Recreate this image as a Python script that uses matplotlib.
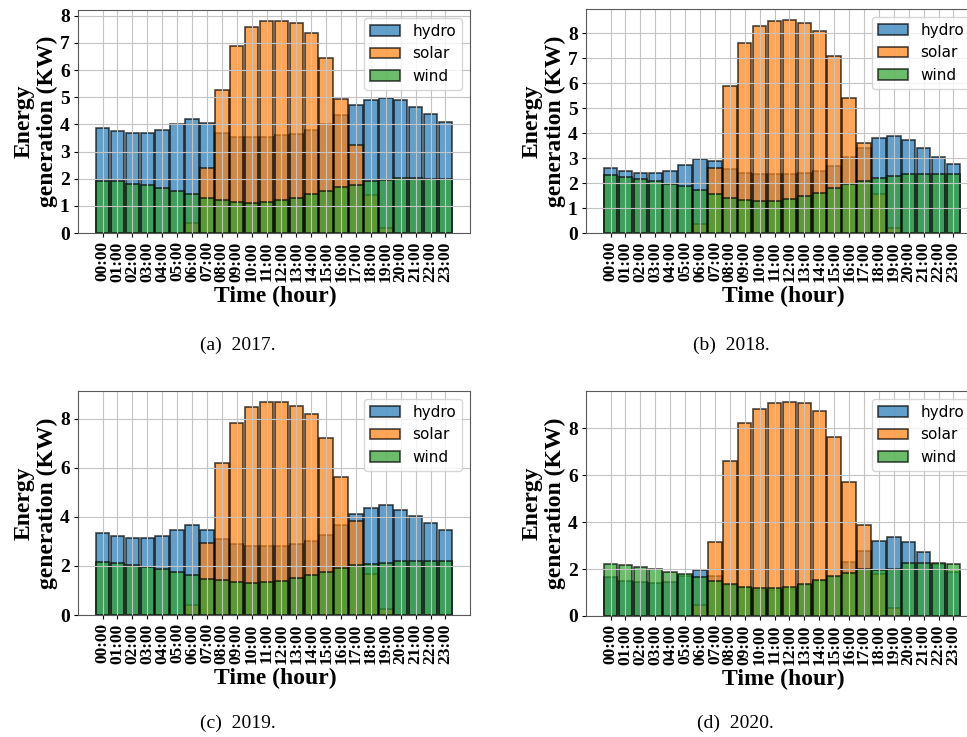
import matplotlib
matplotlib.use('Agg')
import matplotlib.pyplot as plt
from matplotlib.ticker import MultipleLocator
import numpy as np

hours = ['%02d:00' % h for h in range(24)]

# 2017
hydro_2017 = [3.85, 3.75, 3.7, 3.7, 3.78, 4.02, 4.2, 4.05, 3.7, 3.55, 3.52, 3.55,
              3.6, 3.65, 3.8, 4.02, 4.35, 4.7, 4.9, 4.97, 4.88, 4.65, 4.38, 4.08]
solar_2017 = [0, 0, 0, 0, 0, 0, 0.35, 2.4, 5.28, 6.9, 7.6, 7.8,
              7.82, 7.75, 7.35, 6.45, 4.95, 3.25, 1.4, 0.2, 0, 0, 0, 0]
wind_2017 = [1.9, 1.9, 1.82, 1.75, 1.65, 1.55, 1.45, 1.3, 1.2, 1.15, 1.12, 1.15,
             1.2, 1.28, 1.42, 1.55, 1.68, 1.78, 1.9, 1.95, 2.02, 2.02, 2.0, 1.97]

# 2018
hydro_2018 = [2.6, 2.48, 2.42, 2.4, 2.48, 2.72, 2.95, 2.88, 2.55, 2.42, 2.35, 2.35,
              2.38, 2.42, 2.5, 2.7, 3.05, 3.4, 3.8, 3.87, 3.72, 3.42, 3.05, 2.77]
solar_2018 = [0, 0, 0, 0, 0, 0, 0.35, 2.62, 5.9, 7.6, 8.28, 8.5,
              8.55, 8.42, 8.08, 7.08, 5.4, 3.6, 1.55, 0.22, 0, 0, 0, 0]
wind_2018 = [2.32, 2.25, 2.18, 2.1, 1.98, 1.88, 1.72, 1.57, 1.42, 1.33, 1.28, 1.3,
             1.36, 1.47, 1.62, 1.8, 1.97, 2.1, 2.22, 2.3, 2.38, 2.38, 2.35, 2.35]

# 2019
hydro_2019 = [3.35, 3.22, 3.13, 3.12, 3.22, 3.48, 3.67, 3.45, 3.08, 2.9, 2.82, 2.8,
              2.82, 2.9, 3.02, 3.28, 3.68, 4.1, 4.38, 4.47, 4.3, 4.05, 3.75, 3.48]
solar_2019 = [0, 0, 0, 0, 0, 0, 0.4, 2.92, 6.2, 7.83, 8.48, 8.7,
              8.68, 8.53, 8.18, 7.23, 5.63, 3.82, 1.68, 0.25, 0, 0, 0, 0]
wind_2019 = [2.18, 2.12, 2.05, 1.95, 1.87, 1.75, 1.62, 1.48, 1.42, 1.35, 1.32, 1.33,
             1.38, 1.5, 1.63, 1.77, 1.9, 2.02, 2.08, 2.13, 2.2, 2.22, 2.2, 2.2]

# 2020
hydro_2020 = [1.67, 1.5, 1.45, 1.4, 1.46, 1.72, 1.96, 1.7, 1.3, 1.2, 1.1, 1.1,
              1.15, 1.3, 1.5, 1.65, 2.3, 2.75, 3.19, 3.38, 3.15, 2.74, 2.2, 1.89]
solar_2020 = [0, 0, 0, 0, 0, 0, 0.47, 3.16, 6.6, 8.23, 8.81, 9.08,
              9.12, 9.05, 8.72, 7.6, 5.72, 3.87, 1.78, 0.33, 0, 0, 0, 0]
wind_2020 = [2.2, 2.15, 2.07, 1.99, 1.89, 1.79, 1.65, 1.5, 1.36, 1.25, 1.18, 1.18,
             1.25, 1.36, 1.53, 1.7, 1.84, 2.0, 1.96, 1.99, 2.24, 2.27, 2.24, 2.21]

panels = [
    ('(a)  2017.', hydro_2017, solar_2017, wind_2017, 1),
    ('(b)  2018.', hydro_2018, solar_2018, wind_2018, 1),
    ('(c)  2019.', hydro_2019, solar_2019, wind_2019, 2),
    ('(d)  2020.', hydro_2020, solar_2020, wind_2020, 2),
]

plt.rcParams['font.family'] = 'serif'
plt.rcParams['font.serif'] = ['Liberation Serif', 'DejaVu Serif']

fig = plt.figure(figsize=(9.67, 7.37), dpi=100)

# axes boxes in pixels: left, top, right, bottom
boxes = [(78, 10, 470, 233), (586, 9, 978, 233),
         (78, 391, 470, 615), (586, 391, 978, 616)]
caption_pos = [(238, 345), (731, 345), (238, 723), (735, 723)]

W, H = 967.0, 737.0
x = np.arange(24)

for (caption, hydro, solar, wind, step), box, cpos in zip(panels, boxes, caption_pos):
    l, t, r, b = box
    ax = fig.add_axes([l / W, 1 - b / H, (r - l) / W, (b - t) / H])
    ax.bar(x, hydro, width=0.9, color='tab:blue', alpha=0.7, edgecolor='black', linewidth=1.2, label='hydro')
    ax.bar(x, solar, width=0.9, color='tab:orange', alpha=0.7, edgecolor='black', linewidth=1.2, label='solar')
    ax.bar(x, wind, width=0.9, color='tab:green', alpha=0.7, edgecolor='black', linewidth=1.2, label='wind')

    ax.set_xticks(x)
    ax.set_xticklabels(hours, rotation=90, fontsize=12.5, fontweight='bold')
    ax.yaxis.set_major_locator(MultipleLocator(step))
    for lab in ax.get_yticklabels():
        lab.set_fontsize(14)
        lab.set_fontweight('bold')
    ax.tick_params(axis='both', length=3, pad=3)
    ax.grid(True, color='#c4c4c4', linewidth=0.8)
    for sp in ax.spines.values():
        sp.set_color('0.35')

    ax.set_xlabel('Time (hour)', fontsize=17, fontweight='bold')
    ax.set_ylabel('Energy\ngeneration (KW)', fontsize=17, fontweight='bold', linespacing=1.1)
    ax.xaxis.set_label_coords(0.503, -0.235)
    ax.yaxis.set_label_coords(-0.052, 0.5)

    ax.legend(loc='upper right', prop={'family': 'DejaVu Sans', 'size': 11})

    fig.text(cpos[0] / W, 1 - cpos[1] / H, caption, ha='center', va='center', fontsize=14)

fig.savefig('out.png', dpi=100)
